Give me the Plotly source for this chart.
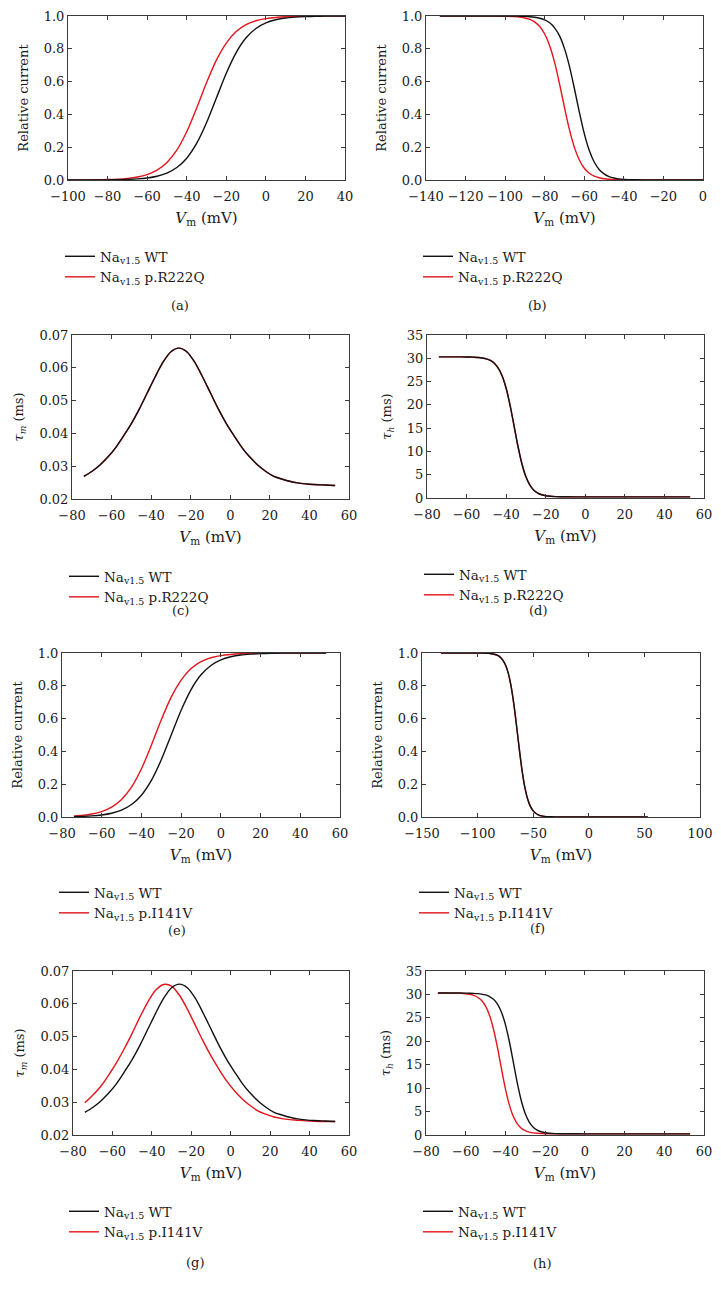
import plotly.graph_objects as go

# ---------------- data ----------------
# (a) steady-state activation, WT vs p.R222Q
act_v_a = [-100, -95, -90, -85, -80, -75, -70, -65, -60, -55, -50, -45, -40, -35, -30,
           -25, -20, -15, -10, -5, 0, 5, 10, 15, 20, 25, 30, 35, 40]
act_wt_a = [0.0001, 0.0002, 0.0003, 0.0006, 0.0010, 0.0019, 0.0036, 0.0067, 0.0124, 0.0230,
            0.0421, 0.0759, 0.133, 0.223, 0.349, 0.500, 0.651, 0.777, 0.867, 0.924, 0.958,
            0.977, 0.988, 0.993, 0.996, 0.998, 0.999, 0.9994, 0.9997]
act_r222q_a = [0.0002, 0.0004, 0.0008, 0.0015, 0.0028, 0.0052, 0.0097, 0.0180, 0.0331, 0.0601,
               0.107, 0.182, 0.294, 0.438, 0.593, 0.731, 0.835, 0.905, 0.947, 0.971, 0.984,
               0.991, 0.995, 0.9975, 0.9987, 0.9993, 0.9996, 0.9998, 0.9999]

# (b)/(f) steady-state inactivation
inact_v = [-133, -125, -120, -115, -110, -105, -100, -95, -92.5, -90, -87.5, -85, -82.5, -80,
           -77.5, -75, -72.5, -70, -67.5, -65, -62.5, -60, -57.5, -55, -52.5, -50, -47.5, -45,
           -42.5, -40, -35, -30, -25, -20, -10, 0, 10, 20, 30, 40, 53]
inact_wt = [1.0, 1.0, 1.0, 1.0, 1.0, 0.9999, 0.9998, 0.9993, 0.9987, 0.9976, 0.9958, 0.9925,
            0.9866, 0.9764, 0.9585, 0.928, 0.879, 0.801, 0.693, 0.558, 0.414, 0.283, 0.181,
            0.110, 0.0645, 0.0371, 0.0211, 0.0119, 0.0067, 0.0038, 0.0012, 0.0004, 0.0001,
            0.0, 0.0, 0.0, 0.0, 0.0, 0.0, 0.0, 0.0]
inact_r222q = [1.0, 1.0, 1.0, 1.0, 0.9999, 0.9996, 0.9988, 0.9962, 0.9933, 0.9881, 0.9789,
               0.9629, 0.9355, 0.890, 0.819, 0.717, 0.586, 0.442, 0.307, 0.199, 0.122, 0.0719,
               0.0415, 0.0236, 0.0134, 0.0075, 0.0042, 0.0024, 0.0013, 0.0007, 0.0002, 0.0001,
               0.0, 0.0, 0.0, 0.0, 0.0, 0.0, 0.0, 0.0, 0.0]
inact_i141v = inact_wt

# (c)/(g) tau_m
taum_v = [-74, -70, -66, -62, -58, -54, -50, -46, -42, -38, -34, -30, -26, -22, -18, -14, -10,
          -6, -2, 2, 6, 10, 14, 18, 22, 26, 30, 34, 38, 42, 46, 50, 53]
taum_wt = [0.0269, 0.0284, 0.0303, 0.0327, 0.0356, 0.0392, 0.0430, 0.0474, 0.0523, 0.0572,
           0.0617, 0.0649, 0.0660, 0.0649, 0.0617, 0.0572, 0.0523, 0.0474, 0.0430, 0.0392,
           0.0356, 0.0327, 0.0303, 0.0284, 0.0269, 0.0261, 0.0254, 0.0249, 0.0246, 0.0244,
           0.0243, 0.0242, 0.0241]
taum_r222q = taum_wt
taum_i141v = [0.0298, 0.0321, 0.0348, 0.0382, 0.0420, 0.0463, 0.0510, 0.0560, 0.0606, 0.0642,
              0.0659, 0.0654, 0.0626, 0.0584, 0.0535, 0.0486, 0.0441, 0.0401, 0.0364, 0.0334,
              0.0309, 0.0289, 0.0273, 0.0263, 0.0255, 0.0250, 0.0247, 0.0245, 0.0243, 0.0242,
              0.0241, 0.0241, 0.0241]

# (d)/(h) tau_h
tauh_v = [-74, -70, -65, -60, -58, -56, -54, -52, -50, -48, -46, -44, -42, -40, -38, -36, -34,
          -32, -30, -28, -26, -24, -22, -20, -15, -10, 0, 10, 20, 30, 40, 53]
tauh_wt = [30.30, 30.30, 30.30, 30.28, 30.26, 30.23, 30.18, 30.07, 29.89, 29.55, 28.95, 27.91,
           26.22, 23.56, 19.90, 15.50, 11.06, 7.30, 4.55, 2.77, 1.67, 1.05, 0.69, 0.49, 0.30,
           0.26, 0.25, 0.25, 0.25, 0.25, 0.25, 0.25]
tauh_r222q = tauh_wt
tauh_i141v = [30.30, 30.29, 30.27, 30.15, 30.03, 29.81, 29.40, 28.70, 27.49, 25.52, 22.57, 18.63,
              14.14, 9.85, 6.38, 3.93, 2.37, 1.45, 0.91, 0.62, 0.45, 0.36, 0.31, 0.28, 0.26,
              0.25, 0.25, 0.25, 0.25, 0.25, 0.25, 0.25]

# (e) activation, WT vs p.I141V
act_v_e = [-74, -70, -65, -60, -55, -50, -45, -40, -35, -30, -25, -20, -15, -10, -5, 0, 5,
           10, 15, 20, 25, 30, 35, 40, 45, 50, 53]
act_wt_e = [0.0022, 0.0036, 0.0067, 0.0124, 0.0230, 0.0421, 0.0759, 0.133, 0.223, 0.349,
            0.500, 0.651, 0.777, 0.867, 0.924, 0.958, 0.977, 0.988, 0.993, 0.996, 0.998,
            0.999, 0.9994, 0.9997, 0.9998, 0.9999, 0.9999]
act_i141v_e = [0.0059, 0.0097, 0.0180, 0.0331, 0.0601, 0.107, 0.182, 0.294, 0.438, 0.593,
               0.731, 0.835, 0.905, 0.947, 0.971, 0.984, 0.991, 0.995, 0.9975, 0.9987,
               0.9993, 0.9996, 0.9998, 0.9999, 0.9999, 1.0, 1.0]

name_wt = "Na<sub>v1.5</sub> WT"
name_r222q = "Na<sub>v1.5</sub> p.R222Q"
name_i141v = "Na<sub>v1.5</sub> p.I141V"
captions = ["(a)", "(b)", "(c)", "(d)", "(e)", "(f)", "(g)", "(h)"]

# ---------------- layout helpers ----------------
W, H = 721, 1296
FONT = "DejaVu Serif"
BLACK = "#111111"
RED = "#e4141b"
AXC = "#3a3a3a"
TXT = "#1a1a1a"

XT = "<i>V</i><sub>m</sub> (mV)"
YT_REL = "Relative current"
YT_TM = "<i>τ<sub>m</sub></i> (ms)"
YT_TH = "<i>τ<sub>h</sub></i> (ms)"

# box = plot area (left, top, right, bottom) in px; leg = (line start x, rows mid y)
panels = [
    dict(box=(68, 16, 345, 180), xr=[-100, 40], xd=20, yr=[0, 1], yd=0.2, yf=".1f", yt=YT_REL,
         wt=(act_v_a, act_wt_a), mut=(act_v_a, act_r222q_a), mname=name_r222q,
         leg=(70, 266), cap=(180, 305)),
    dict(box=(426, 16, 703, 180), xr=[-140, 0], xd=20, yr=[0, 1], yd=0.2, yf=".1f", yt=YT_REL,
         wt=(inact_v, inact_wt), mut=(inact_v, inact_r222q), mname=name_r222q,
         leg=(428, 266), cap=(537, 305)),
    dict(box=(72, 335, 349, 499), xr=[-80, 60], xd=20, yr=[0.02, 0.07], yd=0.01, yf=".2f", yt=YT_TM,
         wt=(taum_v, taum_wt), mut=(taum_v, taum_r222q), mname=name_r222q,
         leg=(74, 586), cap=(180, 610)),
    dict(box=(427, 335, 704, 498), xr=[-80, 60], xd=20, yr=[0, 35], yd=5, yf="d", yt=YT_TH,
         wt=(tauh_v, tauh_wt), mut=(tauh_v, tauh_r222q), mname=name_r222q,
         leg=(429, 584), cap=(538, 610)),
    dict(box=(62, 653, 340, 817), xr=[-80, 60], xd=20, yr=[0, 1], yd=0.2, yf=".1f", yt=YT_REL,
         wt=(act_v_e, act_wt_e), mut=(act_v_e, act_i141v_e), mname=name_i141v,
         leg=(64, 902), cap=(177, 930)),
    dict(box=(422, 653, 700, 817), xr=[-150, 100], xd=50, yr=[0, 1], yd=0.2, yf=".1f", yt=YT_REL,
         wt=(inact_v, inact_wt), mut=(inact_v, inact_i141v), mname=name_i141v,
         leg=(424, 902), cap=(537, 928)),
    dict(box=(73, 971, 349, 1135), xr=[-80, 60], xd=20, yr=[0.02, 0.07], yd=0.01, yf=".2f", yt=YT_TM,
         wt=(taum_v, taum_wt), mut=(taum_v, taum_i141v), mname=name_i141v,
         leg=(74, 1221), cap=(195, 1262)),
    dict(box=(426, 971, 704, 1135), xr=[-80, 60], xd=20, yr=[0, 35], yd=5, yf="d", yt=YT_TH,
         wt=(tauh_v, tauh_wt), mut=(tauh_v, tauh_i141v), mname=name_i141v,
         leg=(428, 1221), cap=(542, 1263)),
]

LEG_FS = 13.5
ROW = 20  # approximate legend row pitch for this font size

fig = go.Figure()
layout = dict(
    width=W, height=H, margin=dict(l=0, r=0, t=0, b=0, autoexpand=False),
    paper_bgcolor="white", plot_bgcolor="white",
    font=dict(family=FONT, size=13, color=TXT),
    showlegend=True, annotations=[],
)

for i, p in enumerate(panels):
    n = i + 1
    sfx = "" if n == 1 else str(n)
    x0, y0, x1, y1 = p["box"]
    xa, ya = "x" + sfx, "y" + sfx
    lg = "legend" + sfx

    fig.add_trace(go.Scatter(x=p["mut"][0], y=p["mut"][1], mode="lines", name=p["mname"],
                             line=dict(color=RED, width=1.4, shape="spline", smoothing=0.8),
                             xaxis=xa, yaxis=ya, legend=lg, legendrank=2))
    fig.add_trace(go.Scatter(x=p["wt"][0], y=p["wt"][1], mode="lines", name=name_wt,
                             line=dict(color=BLACK, width=1.4, shape="spline", smoothing=0.8),
                             xaxis=xa, yaxis=ya, legend=lg, legendrank=1))

    common = dict(showgrid=False, zeroline=False, showline=True, linecolor=AXC, linewidth=1,
                  mirror="ticks", ticks="inside", ticklen=4, tickcolor=AXC, tickwidth=1,
                  automargin=False, ticklabeloverflow="allow",
                  tickfont=dict(family=FONT, size=13, color=TXT))
    layout["xaxis" + sfx] = dict(domain=[x0 / W, x1 / W], range=p["xr"], dtick=p["xd"],
                                 tick0=0, anchor=ya, ticklabelstandoff=4,
                                 title=dict(text=XT, standoff=9,
                                            font=dict(family=FONT, size=15, color=TXT)),
                                 **common)
    layout["yaxis" + sfx] = dict(domain=[1 - y1 / H, 1 - y0 / H], range=p["yr"], dtick=p["yd"],
                                 tick0=0, tickformat=p["yf"], anchor=xa,
                                 title=dict(text=p["yt"], standoff=12,
                                            font=dict(family=FONT, size=13, color=TXT)),
                                 **common)
    lx, lmid = p["leg"]
    layout[lg] = dict(x=(lx - 10) / W, y=1 - (lmid - ROW / 2 - 15) / H,
                      xanchor="left", yanchor="top",
                      bgcolor="rgba(0,0,0,0)", borderwidth=0, tracegroupgap=0,
                      font=dict(family=FONT, size=LEG_FS, color=TXT),
                      itemwidth=30, traceorder="normal")
    layout["annotations"].append(dict(text=captions[i], x=p["cap"][0] / W, y=1 - p["cap"][1] / H,
                                      xref="paper", yref="paper", showarrow=False,
                                      xanchor="center", yanchor="middle",
                                      font=dict(family=FONT, size=13, color=TXT)))

fig.update_layout(**layout)
fig.write_html(
    "out.html",
    config={"displayModeBar": False},
    post_script="document.body.style.margin='0px';document.body.style.overflow='hidden';",
)
